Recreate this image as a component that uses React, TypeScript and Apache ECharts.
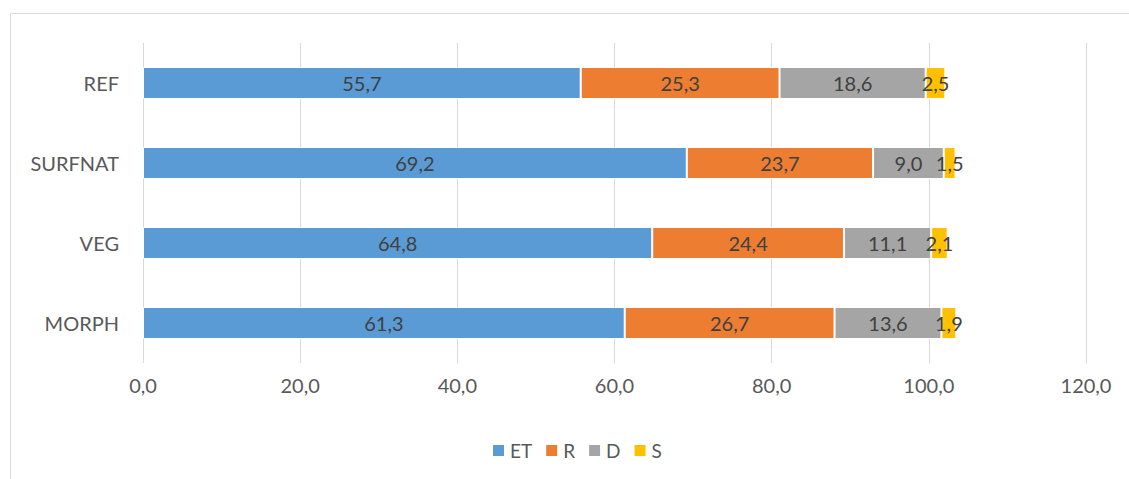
import React, { useEffect, useRef } from "react";
import * as echarts from "echarts";

const categories = ["MORPH", "VEG", "SURFNAT", "REF"];
const seriesNames = ["ET", "R", "D", "S"];
const etValues = [61.3, 64.8, 69.2, 55.7];
const rValues = [26.7, 24.4, 23.7, 25.3];
const dValues = [13.6, 11.1, 9.0, 18.6];
const sValues = [1.9, 2.1, 1.5, 2.5];
const colors = ["#5B9BD5", "#ED7D31", "#A5A5A5", "#FFC000"];
const xTicks = { min: 0, max: 120, interval: 20 };

const FONT = "Lato, 'Open Sans', sans-serif";

export default function App() {
  const ref = useRef<HTMLDivElement>(null);
  useEffect(() => {
    const chart = echarts.init(ref.current!, null, { renderer: "svg" });
    const data = [etValues, rValues, dValues, sValues];
    chart.setOption({
      animation: false,
      textStyle: { fontFamily: FONT },
      graphic: [
        {
          type: "rect",
          shape: { x: 10.5, y: 13.5, width: 1130, height: 480 },
          style: { fill: "none", stroke: "#D9D9D9", lineWidth: 1 },
          silent: true,
          z: -10,
        },
      ],
      grid: { left: 143, right: 43, top: 43, bottom: 116 },
      legend: {
        top: 441,
        left: 491,
        padding: 0,
        itemWidth: 13,
        itemHeight: 13,
        itemGap: 12,
        icon: "rect",
        textStyle: { fontSize: 19, color: "#595959", fontFamily: FONT },
        data: seriesNames,
      },
      xAxis: {
        type: "value",
        min: xTicks.min,
        max: xTicks.max,
        interval: xTicks.interval,
        axisLine: { show: false },
        axisTick: { show: false },
        splitLine: { lineStyle: { color: "#D9D9D9", width: 1 } },
        axisLabel: {
          color: "#595959",
          fontSize: 20,
          margin: 12,
          formatter: (v: number) => v.toFixed(1).replace(".", ","),
        },
      },
      yAxis: {
        type: "category",
        data: categories,
        axisLine: { show: false },
        axisTick: { show: false },
        axisLabel: { color: "#595959", fontSize: 20, margin: 24 },
      },
      series: seriesNames.map((name, i) => ({
        name,
        type: "bar",
        stack: "total",
        barWidth: 32,
        data: data[i],
        itemStyle: { color: colors[i], borderColor: "#FFFFFF", borderWidth: 1 },
        label: {
          show: true,
          position: "inside",
          color: "#404040",
          fontSize: 20,
          fontFamily: FONT,
          overflow: "none",
          formatter: (p: any) => Number(p.value).toFixed(1).replace(".", ","),
        },
        labelLayout: { hideOverlap: false },
      })),
    });
    return () => chart.dispose();
  }, []);
  return <div ref={ref} style={{ width: 1129, height: 479, position: "absolute", left: 0, top: 0 }} />;
}
